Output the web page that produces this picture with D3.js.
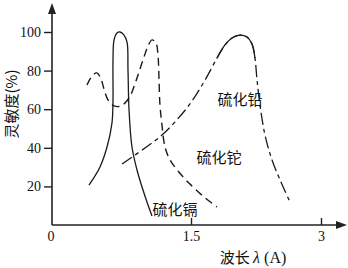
<!DOCTYPE html>
<html>
<head>
<meta charset="utf-8">
<script src="https://cdn.jsdelivr.net/npm/d3@7"></script>
<style>
  body { margin: 0; background: #fff; }
  svg { display: block; }
  .num { font-family: "Liberation Serif", "DejaVu Serif", serif; font-size: 14px; fill: #111; }
  .cjk { font-family: "Noto Sans CJK SC", sans-serif; font-size: 15px; fill: #111; }
</style>
</head>
<body>
<div id="chart"></div>
<script>
// tick labels
var xTicks = [1.5, 3];
var yTicks = [20, 40, 60, 80, 100];

// 硫化镉 (solid)
var cdsX = [0.323, 0.45, 0.531, 0.588, 0.6, 0.6, 0.612, 0.646, 0.681, 0.727, 0.762, 0.773, 0.785, 0.819, 0.877, 0.935, 1.004, 1.05];
var cdsY = [20.7, 30.1, 40.4, 52.8, 64.8, 85.5, 95.9, 99.5, 100, 98.4, 94.8, 80.3, 59.6, 40.4, 28.5, 19.7, 10.4, 4.7];

// 硫化铊 (dashed)
var tlsX = [0.3, 0.358, 0.415, 0.462, 0.496, 0.542, 0.612, 0.692, 0.785, 0.865, 0.946, 1.004, 1.05, 1.096, 1.119, 1.131, 1.142, 1.165, 1.2, 1.258, 1.35, 1.488, 1.638, 1.8];
var tlsY = [72.5, 77.2, 78.8, 75.6, 70.5, 64.8, 61.7, 61.7, 65.8, 74.6, 85.5, 92.7, 95.9, 94.3, 88.1, 75.1, 62.2, 51.8, 40.4, 33.7, 28.0, 21.2, 15.0, 9.3];

// 硫化铅 (dash-dot)
var pbsX = [0.704, 0.969, 1.165, 1.315, 1.488, 1.662, 1.8, 1.892, 1.973, 2.065, 2.146, 2.204, 2.238, 2.262, 2.296, 2.354, 2.435, 2.538, 2.642];
var pbsY = [31.6, 39.9, 46.6, 53.4, 62.7, 75.1, 86.5, 93.3, 96.9, 98.4, 97.4, 93.8, 86.5, 75.1, 62.2, 46.6, 33.7, 22.3, 11.9];

var width = 348, height = 268;
var originX = 52, originY = 225;

var svg = d3.select("#chart").append("svg")
  .attr("width", width)
  .attr("height", height);

var x = d3.scaleLinear().domain([0, 3]).range([61, 321]);
var y = d3.scaleLinear().domain([0, 100]).range([originY, 32]);

// axes lines with arrows
var axisColor = "#222";
svg.append("line")
  .attr("x1", originX).attr("y1", originY)
  .attr("x2", originX).attr("y2", 12)
  .attr("stroke", axisColor).attr("stroke-width", 1.6);
svg.append("path")
  .attr("d", `M${originX},3 L${originX - 4},14 L${originX + 4},14 Z`)
  .attr("fill", axisColor);
svg.append("line")
  .attr("x1", originX).attr("y1", originY)
  .attr("x2", 338).attr("y2", originY)
  .attr("stroke", axisColor).attr("stroke-width", 1.6);
svg.append("path")
  .attr("d", `M347,${originY} L336,${originY - 4} L336,${originY + 4} Z`)
  .attr("fill", axisColor);

// y axis ticks
var gy = svg.append("g")
  .attr("transform", `translate(${originX},0)`)
  .call(d3.axisLeft(y).tickValues(yTicks).tickSize(8).tickPadding(3));
gy.select(".domain").remove();
gy.selectAll("line").attr("stroke", axisColor).attr("stroke-width", 1.4);
gy.selectAll("text").attr("class", "num");

// x axis ticks (pointing up)
var gx = svg.append("g")
  .attr("transform", `translate(0,${originY})`)
  .call(d3.axisBottom(x).tickValues(xTicks).tickSizeInner(-7).tickSizeOuter(0).tickPadding(6)
    .tickFormat(function(d) { return d === 3 ? "3" : d3.format(".1f")(d); }));
gx.select(".domain").remove();
gx.selectAll("line").attr("stroke", axisColor).attr("stroke-width", 1.4);
gx.selectAll("text").attr("class", "num");

svg.append("text")
  .attr("class", "num")
  .attr("x", originX - 1).attr("y", originY + 16)
  .attr("text-anchor", "middle")
  .text("0");

// axis titles
svg.append("text")
  .attr("class", "cjk")
  .attr("transform", "translate(10,104) rotate(-90)")
  .attr("text-anchor", "middle")
  .attr("dominant-baseline", "central")
  .text("灵敏度(%)");

var xt = svg.append("text")
  .attr("class", "cjk")
  .attr("x", 253).attr("y", 263)
  .attr("text-anchor", "middle");
xt.append("tspan").text("波长 ");
xt.append("tspan").attr("font-family", "Liberation Serif, serif").attr("font-style", "italic").attr("font-size", 16).text("λ");
xt.append("tspan").attr("font-family", "Liberation Serif, serif").attr("font-size", 16).text(" (A)");

// curves
var line = d3.line()
  .x(function(d) { return x(d[0]); })
  .y(function(d) { return y(d[1]); })
  .curve(d3.curveCatmullRom.alpha(0.5));

function pts(xs, ys) { return xs.map(function(v, i) { return [v, ys[i]]; }); }

var stroke = "#1a1a1a";

svg.append("path")
  .attr("d", line(pts(cdsX, cdsY)))
  .attr("fill", "none").attr("stroke", stroke).attr("stroke-width", 1.3);

svg.append("path")
  .attr("d", line(pts(tlsX, tlsY)))
  .attr("fill", "none").attr("stroke", stroke).attr("stroke-width", 1.4)
  .attr("stroke-dasharray", "8,5");

var pbs = pts(pbsX, pbsY);
svg.append("path")
  .attr("d", line(pbs))
  .attr("fill", "none").attr("stroke", stroke).attr("stroke-width", 1.3)
  .attr("stroke-dasharray", "12,4,4,4");
// solid round top of the 硫化铅 curve
svg.append("path")
  .attr("d", line(pbs.slice(6, 13)))
  .attr("fill", "none").attr("stroke", stroke).attr("stroke-width", 1.3);

// curve labels
svg.append("text").attr("class", "cjk").attr("x", 175).attr("y", 215)
  .attr("text-anchor", "middle").text("硫化镉");
svg.append("text").attr("class", "cjk").attr("x", 219).attr("y", 163)
  .attr("text-anchor", "middle").text("硫化铊");
svg.append("text").attr("class", "cjk").attr("x", 240).attr("y", 105)
  .attr("text-anchor", "middle").text("硫化铅");
</script>
</body>
</html>
